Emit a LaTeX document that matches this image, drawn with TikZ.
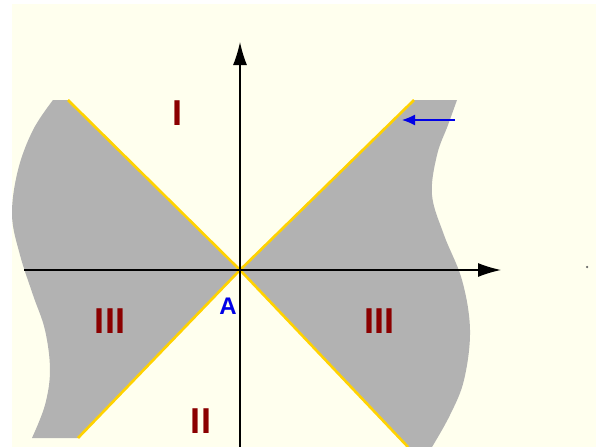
\documentclass[tikz,border=0pt]{standalone}
\usepackage{fontspec}
\setmainfont{Liberation Sans}
\usetikzlibrary{arrows.meta}
\definecolor{cream}{RGB}{255,255,238}
\definecolor{regiongray}{RGB}{178,178,178}
\definecolor{gold}{RGB}{255,210,0}
\definecolor{maroon}{RGB}{139,0,0}
\definecolor{lblue}{RGB}{0,0,230}
\tikzset{
  axis/.style={draw=black, line width=1.3pt, -{Latex[length=23pt,width=14pt]}},
  lightcone/.style={draw=gold, line width=2.6pt},
  region/.style={fill=regiongray, draw=none},
  roman/.style={text=maroon, font=\bfseries\fontsize{36}{36}\selectfont, inner sep=0pt},
  ptlabel/.style={text=lblue, font=\bfseries\fontsize{24}{24}\selectfont, inner sep=0pt},
}
\begin{document}
\begin{tikzpicture}[x=1pt,y=-1pt]
\useasboundingbox (0,0) rectangle (603,447);
\fill[white] (0,0) rectangle (603,447);
\fill[cream] (12,4) rectangle (596,447);
% gray regions
\fill[region] (68,100) -- (240,270) -- (78,438)
  -- plot[smooth, tension=0.6] coordinates {(32,438) (45,405) (50,370) (45,330) (33,295) (20,255) (12,215) (18,170) (33,130) (53,100)} -- cycle;
\fill[region] (414,100) -- (240,270) -- (408,447)
  -- plot[smooth, tension=0.6] coordinates {(432,447) (450,415) (464,380) (470,330) (462,280) (444,235) (432,195) (437,155) (448,125) (457,100)} -- cycle;
% nodes
\coordinate (A) at (240,270);
\coordinate (ul) at (68,100);
\coordinate (ur) at (414,100);
\coordinate (ll) at (78,438);
\coordinate (lr) at (408,447);
\coordinate (xs) at (24,270);
\coordinate (xe) at (501,270);
\coordinate (ys) at (240,447);
\coordinate (ye) at (240,42);
\coordinate (bs) at (455,120);
\coordinate (be) at (402,120);
% light cone lines
\draw[lightcone] (ul) -- (A) -- (lr);
\draw[lightcone] (ur) -- (A) -- (ll);
% axes
\draw[axis] (xs) -- (xe);
\draw[axis] (ys) -- (ye);
% blue arrow
\draw[draw=lblue, line width=1.3pt, -{Latex[length=13pt,width=11pt]}] (bs) -- (be);
% labels
\node[roman] (r1) at (177,113) {I};
\node[roman] (r2) at (201,421) {II};
\node[roman] (r3l) at (110,321) {III};
\node[roman] (r3r) at (379,321) {III};
\node[ptlabel] (lA) at (228,306) {A};
\node[circle, fill=black!60, inner sep=0pt, minimum size=2.5pt] (dot) at (587,267) {};
\end{tikzpicture}
\end{document}
